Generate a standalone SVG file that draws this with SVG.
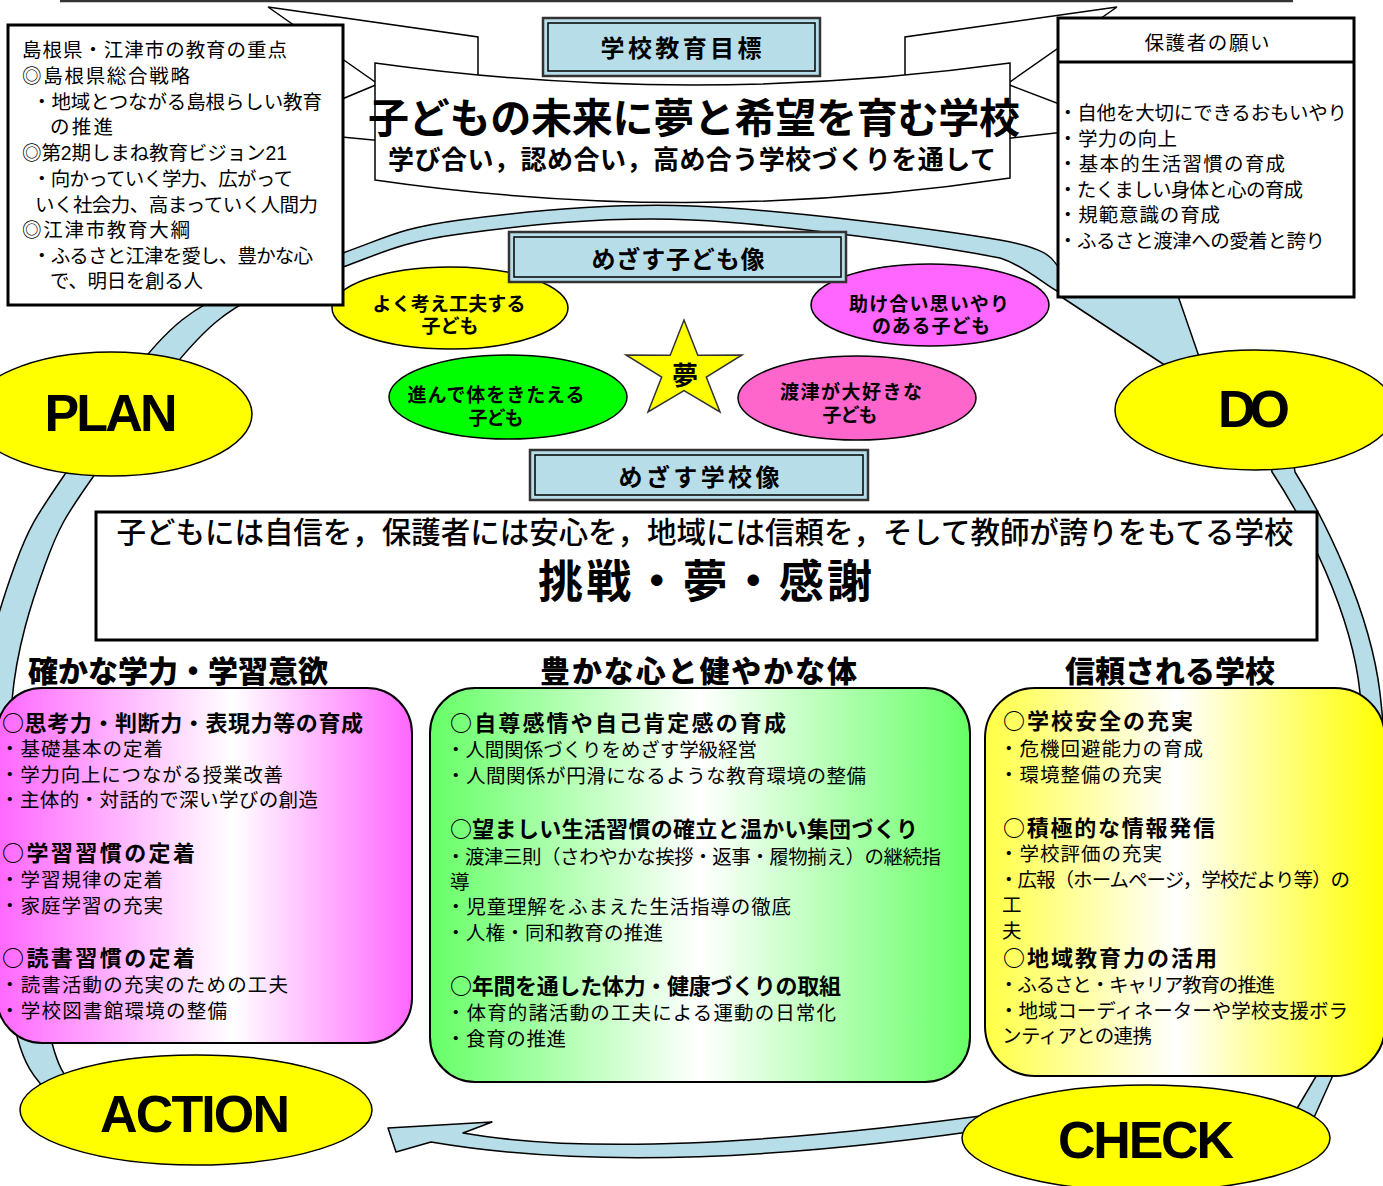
<svg xmlns="http://www.w3.org/2000/svg" width="1383" height="1186" viewBox="0 0 1383 1186">
<defs>
<linearGradient id="gM" x1="0" x2="1" y1="0" y2="0"><stop offset="0" stop-color="#FF66FF"/><stop offset="0.57" stop-color="#FFFFFF"/><stop offset="1" stop-color="#FF66FF"/></linearGradient>
<linearGradient id="gG" x1="0" x2="1" y1="0" y2="0"><stop offset="0" stop-color="#66FF66"/><stop offset="0.5" stop-color="#FFFFFF"/><stop offset="1" stop-color="#66FF66"/></linearGradient>
<linearGradient id="gY" x1="0" x2="1" y1="0" y2="0"><stop offset="0" stop-color="#FFFF44"/><stop offset="0.48" stop-color="#FFFFFF"/><stop offset="1" stop-color="#FFFF00"/></linearGradient>
</defs>
<style>
.jp{font-family:"Liberation Sans","Noto Sans CJK JP","Noto Sans CJK SC",sans-serif;fill:#000}
.nf{font-family:"Noto Sans CJK JP",sans-serif}
.r{font-size:19.5px;font-weight:400}
.b{font-size:22px;font-weight:700}
.hd{font-size:30px;font-weight:900}
.lab{font-size:24px;font-weight:700;text-anchor:middle}
.el{font-size:19px;font-weight:700;text-anchor:middle}
.en{font-family:"Liberation Sans",Arial,sans-serif;font-weight:700;font-size:52px;text-anchor:middle;fill:#000}
.band{fill:#B7DEE8;stroke:#000;stroke-width:1.5;stroke-linejoin:round}
.rib{fill:#fff;stroke:#000;stroke-width:1.5}
.lfill{fill:#B7DEE8}
.o1{fill:none;stroke:#333;stroke-width:2.5}
.o2{fill:none;stroke:#000;stroke-width:1.5}
.ell{stroke:#000;stroke-width:1.5}
.box{fill:#fff;stroke:#000;stroke-width:3}
.rbox{stroke:#000;stroke-width:2}
</style>

<line x1="60" y1="1" x2="1293" y2="1" stroke="#333" stroke-width="2.5"/>

<g id="connectors">
<path id="arrow-plan-do" class="band" d="M45 1090 C40.5 1081.7 27.8 1075 18 1040 C8.2 1005 -8 936.7 -14 880 C-20 823.3 -22.8 752.5 -18 700 C-13.2 647.5 1.5 602.2 15 565 C28.5 527.8 35.2 517.8 63 477 C90.8 436.2 135.3 357.3 182 320 C228.7 282.7 296.7 269.7 343 253 C389.3 236.3 401.8 227.8 460 220 C518.2 212.2 602 202.7 692 206 C782 209.3 938.3 229.3 1000 240 C1061.7 250.7 1051.7 265 1062 270 L1150 215 L1213 397 L1060 296 L1057 291 C1045 285 1025 266 1000 258 C939.2 246.2 782 224 692 220 C602 216 518.2 226.2 460 234 C401.8 241.8 383.7 252.3 343 267 C302.3 281.7 257.7 287 216 322 C174.3 357 121.5 436.5 93 477 C64.5 517.5 58.5 527.8 45 565 C31.5 602.2 16.7 647.5 12 700 C7.3 752.5 10.3 822.8 17 880 C23.7 937.2 42.8 1008.8 52 1043 C61.2 1077.2 68.7 1078 72 1085 Z"/>
<path id="arrow-do-check" class="band" d="M1290 440 L1295 472 C1325 520 1370 610 1380 693 C1390 780 1395 960 1334 1073 L1312 1122 L1292 1117 L1318 1073 C1373 960 1370 780 1360 693 C1352 612 1305 522 1272 472 L1265 440 Z"/>
<path id="arrow-check-action" class="band" d="M1010 1112 Q637.5 1163.5 463 1133 L492 1122 L388 1128 L396 1152 L431 1142 Q653.5 1180 1010 1126 Z"/>
</g>

<g id="goal-ribbon">
<path class="rib" d="M268 7 L478 37 L478 150 L268 130 L378 84 Z"/>
<path class="rib" d="M1117 7 L905 37 L905 150 L1117 126 L1007 84 Z"/>
<path class="rib" d="M375 63 Q692 107 1010 63 L1010 178 Q692 226 375 180 Z"/>
<text class="jp" x="694" y="133" font-size="41" font-weight="700" text-anchor="middle" textLength="652">子どもの未来に夢と希望を育む学校</text>
<text class="jp" x="692" y="169" font-size="26" font-weight="700" text-anchor="middle" textLength="608">学び合い，認め合い，高め合う学校づくりを通して</text>
</g>

<g id="goal-label">
<rect class="lfill" x="543" y="18" width="277" height="58"/>
<rect class="o1" x="543" y="18" width="277" height="58"/>
<rect class="o2" x="548" y="23" width="267" height="48"/>
<text class="jp lab" x="681" y="57" font-size="25" textLength="161">学校教育目標</text>
</g>

<g id="child-1">
<ellipse class="ell" cx="450" cy="308" rx="118" ry="41" fill="#FFFF00"/>
<text class="jp el" x="449" y="311" textLength="153">よく考え工夫する</text>
<text class="jp el" x="450" y="333" textLength="57">子ども</text>
</g>
<g id="child-2">
<ellipse class="ell" cx="930" cy="305" rx="119" ry="41" fill="#FF66FF"/>
<text class="jp el" x="929" y="311" textLength="160">助け合い思いやり</text>
<text class="jp el" x="931" y="333" textLength="118">のある子ども</text>
</g>
<g id="child-3">
<ellipse class="ell" cx="508" cy="397" rx="119" ry="42" fill="#00FF00"/>
<text class="jp el" x="496" y="402" textLength="177">進んで体をきたえる</text>
<text class="jp el" x="496" y="425" textLength="55">子ども</text>
</g>
<g id="child-4">
<ellipse class="ell" cx="857" cy="398" rx="119" ry="42" fill="#FF66CC"/>
<text class="jp el" x="851" y="399" textLength="142">渡津が大好きな</text>
<text class="jp el" x="850" y="422" textLength="55">子ども</text>
</g>
<g id="dream-star">
<path d="M684 320 L697.8 355.2 L742 355 L706.3 377 L720 412 L684 390.5 L648 412 L661.7 377 L626 355 L670.2 355.2 Z" fill="#FFFF00" stroke="#333" stroke-width="1.5"/>
<text class="jp" x="685" y="385" font-size="26" font-weight="700" text-anchor="middle">夢</text>
</g>

<g id="child-label">
<rect class="lfill" x="509" y="232" width="337" height="50"/>
<rect class="o1" x="509" y="232" width="337" height="50"/>
<rect class="o2" x="514" y="237" width="327" height="40"/>
<text class="jp lab" x="678" y="268" textLength="173">めざす子ども像</text>
</g>

<g id="school-label">
<rect class="lfill" x="530" y="450" width="338" height="50"/>
<rect class="o1" x="530" y="450" width="338" height="50"/>
<rect class="o2" x="535" y="455" width="328" height="40"/>
<text class="jp lab" x="699" y="486" textLength="161">めざす学校像</text>
</g>

<g id="policy-box">
<rect class="box" x="8" y="25" width="335" height="280"/>
<text class="jp r" x="22" y="57" textLength="265">島根県・江津市の教育の重点</text>
<text class="jp r" x="22" y="83" textLength="168">◎島根県総合戦略</text>
<text class="jp r" x="32" y="109" textLength="290">・地域とつながる島根らしい教育</text>
<text class="jp r" x="50" y="134" textLength="63">の推進</text>
<text class="jp r" x="22" y="160" textLength="265">◎第2期しまね教育ビジョン21</text>
<text class="jp r" x="32" y="186" textLength="261">・向かっていく学力、広がって</text>
<text class="jp r" x="35" y="212" textLength="283">いく社会力、高まっていく人間力</text>
<text class="jp r" x="22" y="237" textLength="168">◎江津市教育大綱</text>
<text class="jp r" x="32" y="263" textLength="281">・ふるさと江津を愛し、豊かな心</text>
<text class="jp r" x="50" y="288" textLength="153">で、明日を創る人</text>
</g>

<g id="parents-box">
<rect class="box" x="1058" y="18" width="296" height="279"/>
<line x1="1058" y1="62" x2="1354" y2="62" stroke="#000" stroke-width="3"/>
<text class="jp r" x="1207" y="50" text-anchor="middle" textLength="125">保護者の願い</text>
<text class="jp r" x="1058" y="120" textLength="289">・自他を大切にできるおもいやり</text>
<text class="jp r" x="1058" y="146" textLength="119">・学力の向上</text>
<text class="jp r" x="1058" y="171" textLength="227">・基本的生活習慣の育成</text>
<text class="jp r" x="1058" y="197" textLength="245">・たくましい身体と心の育成</text>
<text class="jp r" x="1058" y="222" textLength="162">・規範意識の育成</text>
<text class="jp r" x="1058" y="248" textLength="267">・ふるさと渡津への愛着と誇り</text>
</g>

<g id="plan">
<ellipse class="ell" cx="111" cy="414" rx="141" ry="62" fill="#FFFF00"/>
<text class="en" x="111" y="431" textLength="133">PLAN</text>
</g>
<g id="do">
<ellipse class="ell" cx="1255" cy="410" rx="140" ry="60" fill="#FFFF00"/>
<text class="en" x="1254" y="427" textLength="72">DO</text>
</g>

<g id="school-vision">
<rect class="box" x="96" y="512" width="1221" height="128" stroke-width="4"/>
<text class="jp" x="705" y="543" font-size="29.5" font-weight="500" text-anchor="middle" textLength="1177">子どもには自信を，保護者には安心を，地域には信頼を，そして教師が誇りをもてる学校</text>
<text class="jp" x="705" y="598" font-size="45" font-weight="700" text-anchor="middle" textLength="334">挑戦・夢・感謝</text>
</g>

<g id="academic">
<text class="jp hd" x="28" y="682" textLength="300">確かな学力・学習意欲</text>
<rect class="rbox" x="-3" y="688" width="415" height="355" rx="45" fill="url(#gM)"/>
<text class="jp b" x="2" y="731" textLength="361"><tspan class="nf">○</tspan>思考力・判断力・表現力等の育成</text>
<text class="jp r" x="0" y="756" textLength="163">・基礎基本の定着</text>
<text class="jp r" x="0" y="782" textLength="283">・学力向上につながる授業改善</text>
<text class="jp r" x="0" y="807" textLength="318">・主体的・対話的で深い学びの創造</text>
<text class="jp b" x="2" y="861" textLength="193"><tspan class="nf">○</tspan>学習習慣の定着</text>
<text class="jp r" x="0" y="887" textLength="163">・学習規律の定着</text>
<text class="jp r" x="0" y="913" textLength="163">・家庭学習の充実</text>
<text class="jp b" x="2" y="966" textLength="193"><tspan class="nf">○</tspan>読書習慣の定着</text>
<text class="jp r" x="0" y="992" textLength="288">・読書活動の充実のための工夫</text>
<text class="jp r" x="0" y="1018" textLength="227">・学校図書館環境の整備</text>
</g>

<g id="heart-body">
<text class="jp hd" x="540" y="682" textLength="317">豊かな心と健やかな体</text>
<rect class="rbox" x="430" y="688" width="540" height="394" rx="45" fill="url(#gG)"/>
<text class="jp b" x="450" y="731" textLength="336"><tspan class="nf">○</tspan>自尊感情や自己肯定感の育成</text>
<text class="jp r" x="446" y="757" textLength="311">・人間関係づくりをめざす学級経営</text>
<text class="jp r" x="446" y="783" textLength="420">・人間関係が円滑になるような教育環境の整備</text>
<text class="jp b" x="450" y="837" textLength="468"><tspan class="nf">○</tspan>望ましい生活習慣の確立と温かい集団づくり</text>
<text class="jp r" x="446" y="864" textLength="495">・渡津三則（さわやかな挨拶・返事・履物揃え）の継続指</text>
<text class="jp r" x="450" y="889">導</text>
<text class="jp r" x="446" y="914" textLength="345">・児童理解をふまえた生活指導の徹底</text>
<text class="jp r" x="446" y="940" textLength="217">・人権・同和教育の推進</text>
<text class="jp b" x="450" y="994" textLength="391"><tspan class="nf">○</tspan>年間を通した体力・健康づくりの取組</text>
<text class="jp r" x="446" y="1020" textLength="390">・体育的諸活動の工夫による運動の日常化</text>
<text class="jp r" x="446" y="1046" textLength="120">・食育の推進</text>
</g>

<g id="trusted-school">
<text class="jp hd" x="1065" y="682" textLength="210">信頼される学校</text>
<rect class="rbox" x="985" y="688" width="400" height="388" rx="50" fill="url(#gY)"/>
<text class="jp b" x="1003" y="729" textLength="190"><tspan class="nf">○</tspan>学校安全の充実</text>
<text class="jp r" x="999" y="756" textLength="204">・危機回避能力の育成</text>
<text class="jp r" x="999" y="782" textLength="163">・環境整備の充実</text>
<text class="jp b" x="1003" y="836" textLength="212"><tspan class="nf">○</tspan>積極的な情報発信</text>
<text class="jp r" x="999" y="861" textLength="163">・学校評価の充実</text>
<text class="jp r" x="999" y="887" textLength="351">・広報（ホームページ，学校だより等）の</text>
<text class="jp r" x="1002" y="912">工</text>
<text class="jp r" x="1002" y="938">夫</text>
<text class="jp b" x="1003" y="966" textLength="214"><tspan class="nf">○</tspan>地域教育力の活用</text>
<text class="jp r" x="999" y="992" textLength="276">・ふるさと・キャリア教育の推進</text>
<text class="jp r" x="999" y="1018" textLength="349">・地域コーディネーターや学校支援ボラ</text>
<text class="jp r" x="1002" y="1043" textLength="150">ンティアとの連携</text>
</g>

<g id="action">
<ellipse class="ell" cx="196" cy="1110" rx="176" ry="55" fill="#FFFF00"/>
<text class="en" x="195" y="1132" textLength="190">ACTION</text>
</g>
<g id="check">
<ellipse class="ell" cx="1146" cy="1138" rx="184" ry="53" fill="#FFFF00"/>
<text class="en" x="1146" y="1158" textLength="176">CHECK</text>
</g>
</svg>
